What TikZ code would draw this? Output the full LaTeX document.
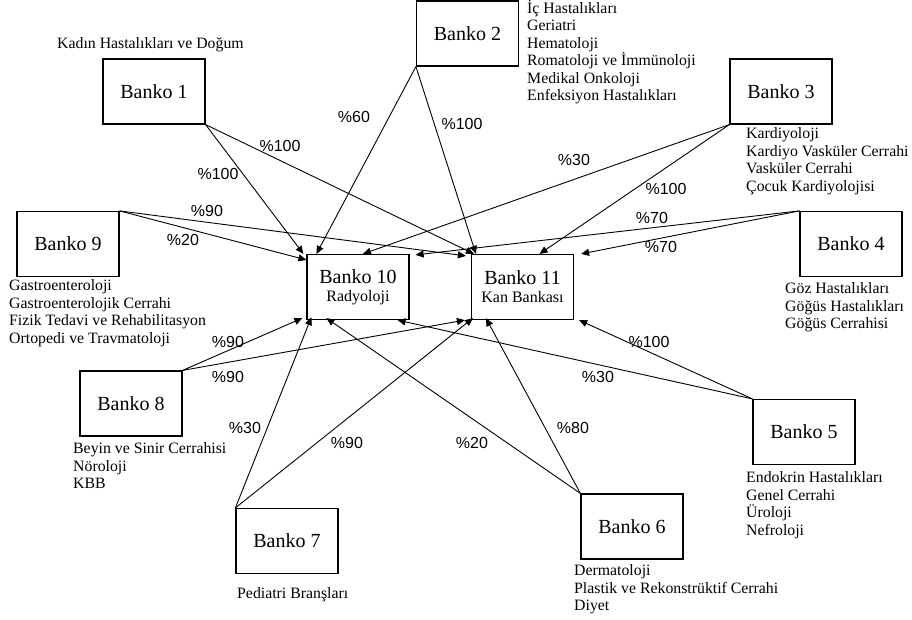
\documentclass[tikz,border=0pt]{standalone}
\usepackage{fontspec}
\setmainfont{Liberation Serif}
\newfontfamily\pctfont{Liberation Sans}
\usetikzlibrary{arrows.meta}

\begin{document}
\begin{tikzpicture}[x=1pt,y=-1pt,
  bankbox/.style={draw, line width=1.2pt, minimum width=102pt, minimum height=65pt,
    inner sep=0pt, align=center, font=\fontsize{20}{21}\selectfont},
  dept/.style={anchor=north west, inner sep=0pt, align=left,
    font=\fontsize{15.8}{17.5}\selectfont},
  pct/.style={inner sep=0pt, font=\pctfont\fontsize{16}{17}\selectfont},
  arr/.style={line width=0.9pt, -{Triangle[length=8pt,width=7pt]}}]

% canvas
\fill[white] (0,0) rectangle (912,620);
\useasboundingbox (0,0) rectangle (912,620);

% counters
\node[bankbox] (b1)  at (154,91.5)  {Banko 1};
\node[bankbox] (b2)  at (467.5,33.5) {Banko 2};
\node[bankbox] (b3)  at (781,91.5)  {Banko 3};
\node[bankbox] (b4)  at (851,244)   {Banko 4};
\node[bankbox] (b5)  at (804,432)   {Banko 5};
\node[bankbox] (b6)  at (632,526.5) {Banko 6};
\node[bankbox] (b7)  at (287,541)   {Banko 7};
\node[bankbox] (b8)  at (131,403.5) {Banko 8};
\node[bankbox] (b9)  at (68,244)    {Banko 9};
\node[bankbox] (b10) at (358,287)   {Banko 10\\[-3pt]{\fontsize{16}{17}\selectfont Radyoloji}};
\node[bankbox] (b11) at (522.5,287) {Banko 11\\[-3pt]{\fontsize{16}{17}\selectfont Kan Bankası}};

% departments served by each counter
\node[dept] (d1) at (57,37.5)   {Kadın Hastalıkları ve Doğum};
\node[dept] (d2) at (527,0)     {İç Hastalıkları\\Geriatri\\Hematoloji\\Romatoloji ve İmmünoloji\\Medikal Onkoloji\\Enfeksiyon Hastalıkları};
\node[dept] (d3) at (746,127.5) {Kardiyoloji\\Kardiyo Vasküler Cerrahi\\Vasküler Cerrahi\\Çocuk Kardiyolojisi};
\node[dept] (d4) at (785,282.5) {Göz Hastalıkları\\Göğüs Hastalıkları\\Göğüs Cerrahisi};
\node[dept] (d5) at (746,471.5) {Endokrin Hastalıkları\\Genel Cerrahi\\Üroloji\\Nefroloji};
\node[dept] (d6) at (574,564.5) {Dermatoloji\\Plastik ve Rekonstrüktif Cerrahi\\Diyet};
\node[dept] (d7) at (237,587.5) {Pediatri Branşları};
\node[dept] (d8) at (73,442.5)  {Beyin ve Sinir Cerrahisi\\Nöroloji\\KBB};
\node[dept] (d9) at (9,279.5)   {Gastroenteroloji\\Gastroenterolojik Cerrahi\\Fizik Tedavi ve Rehabilitasyon\\Ortopedi ve Travmatoloji};

% flows to radiology and blood bank
\draw[arr] (b1.south east) -- ([xshift=-3pt]b10.north west);
\draw[arr] (b1.south east) -- ([xshift=3pt]b11.north west);
\draw[arr] (b2.south west) -- ([xshift=10pt]b10.north west);
\draw[arr] (b2.south west) -- ([xshift=5pt]b11.north west);
\draw[arr] (b3.south west) -- ([xshift=5pt]b10.north);
\draw[arr] (b3.south west) -- ([xshift=17pt]b11.north);
\draw[arr] (b9.north east) -- ([yshift=-6pt]b10.north west);
\draw[arr] (b9.north east) -- ([xshift=-5pt,yshift=-2pt]b11.north west);
\draw[arr] (b4.north west) -- ([xshift=6pt,yshift=-1pt]b10.north east);
\draw[arr] (b4.north west) -- ([xshift=7pt]b11.north east);
\draw[arr] (b8.north east) -- ([xshift=-4pt,yshift=2pt]b10.south west);
\draw[arr] (b8.north east) -- ([xshift=-6pt]b11.south west);
\draw[arr] (b7.north west) -- ([xshift=5pt,yshift=3pt]b10.south west);
\draw[arr] (b7.north west) -- ([xshift=2pt,yshift=2pt]b11.south west);
\draw[arr] (b6.north west) -- ([xshift=20pt,yshift=2pt]b10.south west);
\draw[arr] (b6.north west) -- ([xshift=15pt,yshift=2pt]b11.south west);
\draw[arr] (b5.north west) -- ([xshift=-12pt]b10.south east);
\draw[arr] (b5.north west) -- ([xshift=5pt]b11.south east);

% shares
\node[pct] (p1a) at (218,174) {\%100};
\node[pct] (p1b) at (280,146) {\%100};
\node[pct] (p2a) at (354,117) {\%60};
\node[pct] (p2b) at (462,124) {\%100};
\node[pct] (p3a) at (574,160) {\%30};
\node[pct] (p3b) at (666,189) {\%100};
\node[pct] (p9b) at (207,211) {\%90};
\node[pct] (p9a) at (183,240) {\%20};
\node[pct] (p4a) at (652,218) {\%70};
\node[pct] (p4b) at (661,247) {\%70};
\node[pct] (p5b) at (649,342) {\%100};
\node[pct] (p5a) at (598,377) {\%30};
\node[pct] (p8a) at (228,342) {\%90};
\node[pct] (p8b) at (228,377) {\%90};
\node[pct] (p7a) at (245,428) {\%30};
\node[pct] (p7b) at (347,443) {\%90};
\node[pct] (p6a) at (472,443) {\%20};
\node[pct] (p6b) at (573,428) {\%80};
\end{tikzpicture}
\end{document}
